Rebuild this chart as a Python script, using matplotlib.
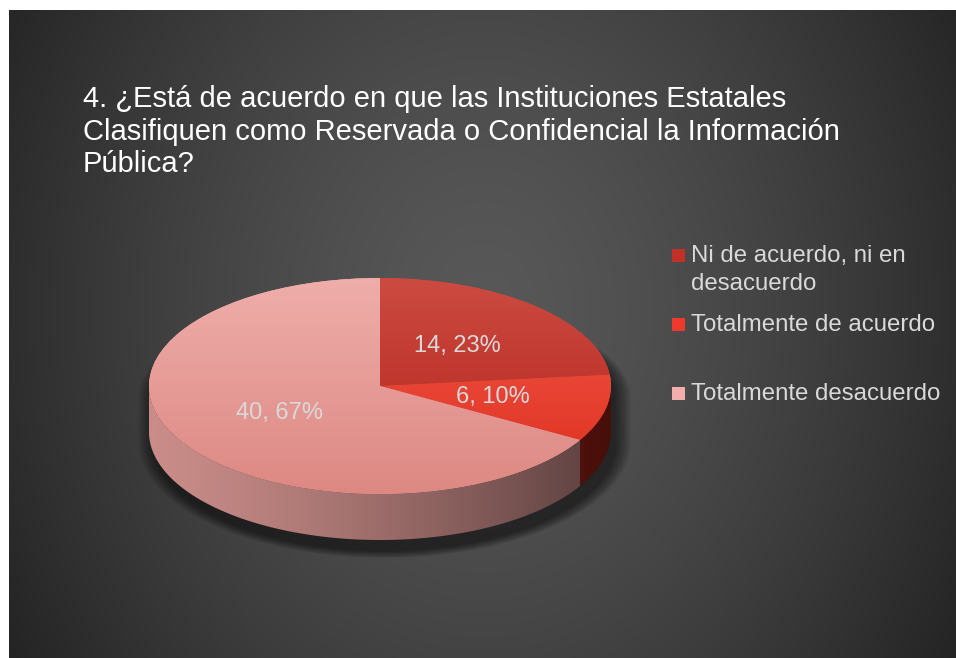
import numpy as np
import matplotlib
matplotlib.use('Agg')
import matplotlib.pyplot as plt
from matplotlib.patches import Polygon, Rectangle
from matplotlib.colors import to_rgb

W, H = 956, 658

# data
categories = ['Ni de acuerdo, ni en\ndesacuerdo', 'Totalmente de acuerdo', 'Totalmente desacuerdo']
counts = [14, 6, 40]
title = ('4. ¿Está de acuerdo en que las Instituciones Estatales\n'
         'Clasifiquen como Reservada o Confidencial la Información\n'
         'Pública?')

# colours (top face gradient light -> dark, side wall base, legend key)
top_light = ['#cc4b41', '#f05a4b', '#efaeaa']
top_dark = ['#b3211a', '#df2d1d', '#dd8883']
side_colors = ['#a02219', '#b02519', '#e09c98']
legend_colors = ['#c2302a', '#ee3a2c', '#f2aeab']
text_grey = '#d9d9d9'

plt.rcParams['font.family'] = ['Liberation Sans', 'DejaVu Sans']

fig = plt.figure(figsize=(W / 100, H / 100), dpi=100, facecolor='white')


def fx(x):
    return x / W


def fy(y):
    return 1 - y / H


# dark radial gradient panel (runs off the right and bottom edges)
bg = fig.add_axes([fx(9), -0.02, 1.02, 1 - 10 / H + 0.02])
yy, xx = np.mgrid[0:662, 0:967]
r = np.sqrt(((xx - 470) / 520.0) ** 2 + ((yy - 300) / 640.0) ** 2)
v = np.clip(0.345 - 0.19 * r ** 1.4, 0.14, 1)
bg.imshow(np.dstack([v, v, v]), aspect='auto', interpolation='bilinear')
bg.axis('off')

# pie axes: one data unit = rx px horizontally, ry px vertically
cx, cy, rx, ry, depth_px = 380, 386, 231, 108, 46
d = depth_px / ry
x0, x1 = -1.1, 1.1
y0, y1 = -1 - d - 0.3, 1.1
ax = fig.add_axes([fx(cx + x0 * rx), fy(cy - y0 * ry),
                   (x1 - x0) * rx / W, (y1 - y0) * ry / H])

total = sum(counts)


def fmt(p):
    return f'{round(p * total / 100)}, {p:.0f}%'


wedges, texts, autotexts = ax.pie(
    counts, startangle=90, counterclock=False, colors=top_light,
    autopct=fmt, pctdistance=0.5, wedgeprops=dict(linewidth=0),
    textprops=dict(color=text_grey, fontsize=17))
for t in autotexts:
    t.set_zorder(6)

# top face vertical gradient
g = np.linspace(0, 1, 256)[:, None, None]
for w, c1, c2 in zip(wedges, top_light, top_dark):
    img = (1 - g) * np.array(to_rgb(c1)) + g * np.array(to_rgb(c2))
    im = ax.imshow(img, extent=(-1, 1, -1, 1), aspect='auto', zorder=3,
                   interpolation='bilinear')
    im.set_clip_path(w)


def silhouette(s=1.0, ox=0.0, oy=0.0):
    a1 = np.linspace(0, np.pi, 120)
    a2 = np.linspace(np.pi, 2 * np.pi, 120)
    top = np.column_stack([s * np.cos(a1), 0.9 * np.sin(a1)])
    bot = np.column_stack([s * np.cos(a2), s * np.sin(a2) - d])
    return np.vstack([top, bot]) + [ox, oy]


# soft shadow, mostly below and to the right
for i in range(12):
    sh = Polygon(silhouette(1.0 + 0.006 * i, 0.02, -0.1), closed=True,
                 facecolor='black', edgecolor='none', alpha=0.05, zorder=0.5)
    ax.add_patch(sh)

# side walls (front half only)
tx = np.linspace(0, 1, 400)
shade = 0.9 - 0.5 * tx ** 1.3
for w, sc in zip(wedges, side_colors):
    t1, t2 = w.theta1, w.theta2
    for shift in (-360, 0, 360):
        lo, hi = max(t1, 180 + shift), min(t2, 360 + shift)
        if hi <= lo:
            continue
        a = np.radians(np.linspace(lo, hi, 100))
        pts = np.vstack([np.column_stack([np.cos(a), np.sin(a)]),
                         np.column_stack([np.cos(a[::-1]), np.sin(a[::-1]) - d])])
        wall = Polygon(pts, closed=True, facecolor='none', edgecolor='none')
        ax.add_patch(wall)
        side_img = shade[None, :, None] * np.array(to_rgb(sc))[None, None, :]
        im = ax.imshow(side_img, extent=(-1, 1, -1 - d, 1), aspect='auto',
                       zorder=1, interpolation='bilinear')
        im.set_clip_path(wall)

ax.set_aspect('auto')
ax.set_xlim(x0, x1)
ax.set_ylim(y0, y1)
ax.axis('off')

# title
for i, line in enumerate(title.split('\n')):
    fig.text(fx(83), fy(107 + 32.5 * i), line, color='white', fontsize=21,
             ha='left', va='baseline')

# legend
key_tops = [249, 318, 387]
for lab, col, ktop in zip(categories, legend_colors, key_tops):
    fig.patches.append(Rectangle((fx(672), fy(ktop + 13)), 13 / W, 13 / H,
                                 transform=fig.transFigure, facecolor=col,
                                 edgecolor='none'))
    for j, line in enumerate(lab.split('\n')):
        fig.text(fx(691), fy(ktop + 13 + 28 * j), line, color=text_grey,
                 fontsize=17.3, ha='left', va='baseline')

fig.savefig('out.png', dpi=100, facecolor='white')
